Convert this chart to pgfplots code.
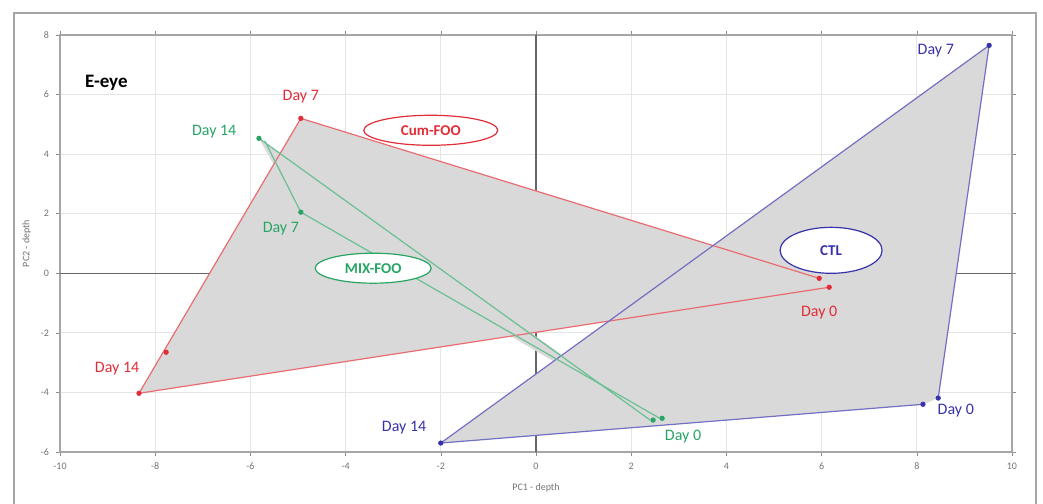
\documentclass[border=0pt]{standalone}
\usepackage{pgfplots}
\pgfplotsset{compat=1.18}
\usepackage{fontspec}
\setmainfont{Carlito}
\definecolor{cred}{RGB}{225,45,55}
\definecolor{cgreen}{RGB}{40,165,100}
\definecolor{cblue}{RGB}{55,50,170}
\definecolor{fillg}{RGB}{217,217,217}
\begin{document}
\begin{tikzpicture}
\begin{axis}[
  scale only axis, width=476pt, height=208.5pt,
  xmin=-10, xmax=10, ymin=-6, ymax=8,
  xtick={-10,-8,...,10}, ytick={-6,-4,...,8},
  grid=major, grid style={black!10, line width=0.6pt},
  axis line style={black!35, line width=1pt},
  tick style={black!45}, major tick length=2pt,
  tick align=outside,
  ticklabel style={font=\fontsize{5}{6}\selectfont, text=black!55},
  /pgf/number format/assume math mode=true,
  extra x ticks={0}, extra y ticks={0}, extra x tick labels={}, extra y tick labels={},
  extra tick style={grid style={black!60, line width=0.6pt}},
  xlabel={PC1 - depth}, ylabel={PC2 - depth},
  xlabel style={font=\fontsize{5}{6}\selectfont, text=black!55, yshift=4pt},
  ylabel style={font=\fontsize{5}{6}\selectfont, text=black!55, yshift=-6pt},
  clip=false, axis on top=false,
]
\coordinate (bbSW) at (rel axis cs:-0.0630,-0.1247);
\coordinate (bbNE) at (rel axis cs:1.0326,1.0839);
\draw[black!35, line width=0.8pt] (rel axis cs:-0.0483,-0.1247) -- (rel axis cs:-0.0483,1.0528) -- (rel axis cs:1.0252,1.0528) -- (rel axis cs:1.0252,-0.1247);

% fills
\addplot[fill=fillg, draw=none] coordinates {(-4.94,5.20) (5.95,-0.17) (6.16,-0.47) (-8.34,-4.03)} --cycle;
\addplot[fill=fillg, draw=none] coordinates {(-2.0,-5.70) (9.52,7.65) (8.45,-4.19) (8.13,-4.40)} --cycle;
\addplot[fill=fillg, draw=none] coordinates {(-5.82,4.53) (-4.94,2.05) (2.46,-4.93)} --cycle;

% edges
\addplot[cred!70, line width=0.6pt] coordinates {(-4.94,5.20) (5.95,-0.17)};
\addplot[cred!70, line width=0.6pt] coordinates {(-8.34,-4.03) (6.16,-0.47)};
\addplot[cred!70, line width=0.6pt] coordinates {(-8.34,-4.03) (-4.94,5.20)};
\addplot[cblue!70, line width=0.6pt] coordinates {(-2.0,-5.70) (9.52,7.65) (8.45,-4.19)};
\addplot[cblue!70, line width=0.6pt] coordinates {(-2.0,-5.70) (8.13,-4.40)};
\addplot[cgreen!70, line width=0.6pt] coordinates {(-5.82,4.53) (2.40,-4.93)};
\addplot[cgreen!70, line width=0.6pt] coordinates {(-5.70,4.45) (-4.94,2.05) (2.60,-4.87)};

% markers
\addplot[only marks, mark=*, mark size=1.1pt, cred] coordinates {(-4.94,5.20) (-8.34,-4.03) (-7.77,-2.65) (5.95,-0.17) (6.16,-0.47)};
\addplot[only marks, mark=*, mark size=1.1pt, cgreen] coordinates {(-5.82,4.53) (-4.94,2.05) (2.46,-4.93) (2.65,-4.87)};
\addplot[only marks, mark=*, mark size=1.1pt, cblue] coordinates {(-2.0,-5.70) (9.52,7.65) (8.45,-4.19) (8.13,-4.40)};

% ellipses
\draw[cred, line width=0.6pt, fill=white] (axis cs:-2.21,4.80) ellipse [x radius=33.5pt, y radius=7.5pt];
\node[cred, font=\fontsize{7.5}{9}\selectfont\bfseries] at (axis cs:-2.21,4.80) {Cum-FOO};
\draw[cblue, line width=0.6pt, fill=white] (axis cs:6.20,0.77) ellipse [x radius=25.5pt, y radius=11.5pt];
\node[cblue, font=\fontsize{7.5}{9}\selectfont\bfseries] at (axis cs:6.20,0.77) {CTL};
\draw[cgreen, line width=0.6pt, fill=white] (axis cs:-3.42,0.17) ellipse [x radius=29pt, y radius=7.5pt];
\node[cgreen, font=\fontsize{7.5}{9}\selectfont\bfseries] at (axis cs:-3.42,0.17) {MIX-FOO};

% labels
\node[anchor=west, font=\fontsize{9.5}{11}\selectfont\bfseries] at (axis cs:-9.62,6.40) {E-eye};
\node[cred, font=\fontsize{8}{9}\selectfont] at (axis cs:-4.94,5.94) {Day 7};
\node[cred, font=\fontsize{8}{9}\selectfont] at (axis cs:-8.80,-3.19) {Day 14};
\node[cred, font=\fontsize{8}{9}\selectfont] at (axis cs:5.95,-1.31) {Day 0};
\node[cgreen, font=\fontsize{8}{9}\selectfont] at (axis cs:-6.76,4.77) {Day 14};
\node[cgreen, font=\fontsize{8}{9}\selectfont] at (axis cs:-5.36,1.51) {Day 7};
\node[cgreen, font=\fontsize{8}{9}\selectfont] at (axis cs:3.09,-5.50) {Day 0};
\node[cblue, font=\fontsize{8}{9}\selectfont] at (axis cs:-2.77,-5.20) {Day 14};
\node[cblue, font=\fontsize{8}{9}\selectfont] at (axis cs:8.82,-4.60) {Day 0};
\node[cblue, font=\fontsize{8}{9}\selectfont] at (axis cs:8.40,7.48) {Day 7};
\end{axis}
\pgfresetboundingbox
\path[use as bounding box] (bbSW) rectangle (bbNE);
\end{tikzpicture}
\end{document}
